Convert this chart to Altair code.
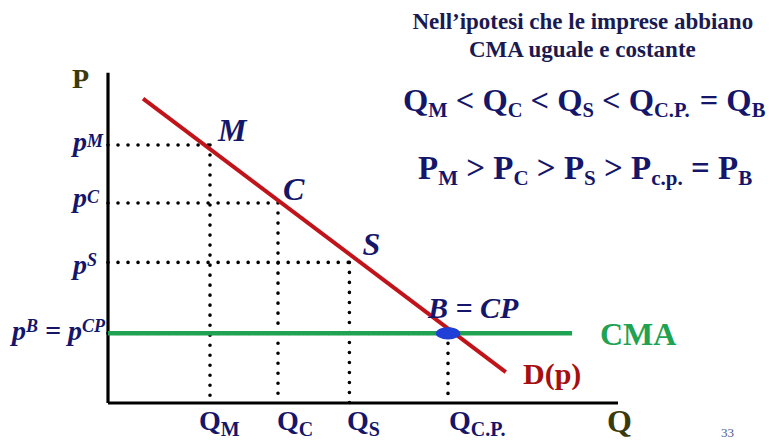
import altair as alt
import pandas as pd

# Equilibria: monopoly (M), Cournot (C), Stackelberg (S), perfect competition / Bertrand (CP)
point_names = ["M", "C", "S", "CP"]
quantity = [3.0, 5.0, 7.1, 10.0]
price = [10.0, 7.75, 5.45, 2.7]

# Linear demand D(p), drawn between its two end points
demand_q = [1.03, 11.7]
demand_p = [11.8, 1.2]

# Constant average cost (CMA) and axis extents
cma_p = 2.7
cma_q_end = 13.65
axis_q_end = 15.0
axis_p_end = 12.8

# ---- canvas geometry -------------------------------------------------------
W, H = 769, 442
X0, Y0 = 108, 403          # pixel position of the origin
KX, KY = 34.0, 25.8        # pixels per unit of Q and of P

xs = alt.Scale(domain=[-X0 / KX, (W - X0) / KX], nice=False, zero=False)
ys = alt.Scale(domain=[-(H - Y0) / KY, Y0 / KY], nice=False, zero=False)


def to_q(px):
    return (px - X0) / KX


def to_p(py):
    return (Y0 - py) / KY


# Times-compatible advance widths (per 1000 em) for Liberation Serif
BOLD = {" ": 250, ".": 250, "’": 333, "<": 570, ">": 570, "=": 570, "(": 333,
        ")": 333, "A": 722, "B": 667, "C": 722, "D": 722, "M": 944, "N": 722,
        "P": 611, "Q": 778, "S": 556, "a": 500, "b": 556, "c": 444, "e": 444,
        "g": 500, "h": 556, "i": 278, "l": 278, "m": 833, "n": 556, "o": 500,
        "p": 556, "r": 444, "s": 389, "t": 333, "u": 556, "3": 500}
BOLD_IT = {" ": 250, "=": 570, "p": 500, "B": 667, "C": 667, "M": 889,
           "P": 611, "S": 556}


def width(text, size, metrics):
    return sum(metrics.get(ch, 500) for ch in text) * size / 1000.0


def run(segments, x, y, metrics, color):
    """Lay out (text, size, rise) pieces one after another from (x, baseline y)."""
    rows = []
    for text, size, rise in segments:
        lead = len(text) - len(text.lstrip(" "))
        if text.strip():
            rows.append(dict(t=text.strip(),
                             x=to_q(x + width(" " * lead, size, metrics)),
                             y=to_p(y - rise), s=size, c=color))
        x += width(text, size, metrics)
    return rows


NAVY = "#15156a"
TITLE = "#1a1a52"
OLIVE = "#3a3a0c"
RED = "#c0141a"
DRED = "#a60f10"
GREEN = "#1fa352"
BLUE = "#1f3fd6"

upright = []
italic = []

# heading
title1 = "Nell’ipotesi che le imprese abbiano"
title2 = "CMA uguale e costante"
cx = 583
upright += run([(title1, 23, 0)], cx - width(title1, 23, BOLD) / 2, 29, BOLD, TITLE)
upright += run([(title2, 23, 0)], cx - width(title2, 23, BOLD) / 2, 57, BOLD, TITLE)

# ordering of quantities and prices
BIG, SUB, DROP = 32.5, 20.5, -6
upright += run([("Q", BIG, 0), ("M", SUB, DROP), (" < ", BIG, 0), ("Q", BIG, 0),
                ("C", SUB, DROP), (" < ", BIG, 0), ("Q", BIG, 0), ("S", SUB, DROP),
                (" < ", BIG, 0), ("Q", BIG, 0), ("C.P.", SUB, DROP), (" = ", BIG, 0),
                ("Q", BIG, 0), ("B", SUB, DROP)], 403, 111, BOLD, NAVY)
upright += run([("P", 33, 0), ("M", 21, DROP), (" > ", 33, 0), ("P", 33, 0),
                ("C", 21, DROP), (" > ", 33, 0), ("P", 33, 0), ("S", 21, DROP),
                (" > ", 33, 0), ("P", 33, 0), ("c.p.", 21, DROP), (" = ", 33, 0),
                ("P", 33, 0), ("B", 21, DROP)], 418, 179, BOLD, NAVY)

# axis names
upright += run([("P", 28, 0)], 72, 88, BOLD, OLIVE)
upright += run([("Q", 32, 0)], 607, 432, BOLD, OLIVE)

# quantity labels under the axis
q_label_left = [199, 277, 347, 449]
q_subs = ["M", "C", "S", "C.P."]
for left, sub in zip(q_label_left, q_subs):
    upright += run([("Q", 28, 0), (sub, 20, -6)], left, 430, BOLD, NAVY)

# curve names
upright += run([("CMA", 32, 0)], 600, 345, BOLD, GREEN)
upright += run([("D(p)", 30, 0)], 523, 384, BOLD, DRED)

# price labels left of the axis
p_label_base = [151, 207, 274, 340]
p_label_rise = [4, 4, 8, 8]
for base, rise, sup in zip(p_label_base[:3], p_label_rise[:3], ["M", "C", "S"]):
    italic += run([("p", 28, 0), (sup, 18, rise)], 73, base, BOLD_IT, NAVY)
italic += run([("p", 28, 0), ("B", 18, 8), (" = ", 28, 0), ("p", 28, 0),
               ("CP", 18, 8)], 12, p_label_base[3], BOLD_IT, NAVY)

# equilibrium point labels, offset from each point
label_text = ["M", "C", "S", "B = CP"]
label_dx = [8, 5, 13, -20]
label_dy = [-4, -3, -7, -15]
label_size = [32, 32, 32, 30]
for name, q, p, dx, dy, sz in zip(label_text, quantity, price, label_dx, label_dy, label_size):
    px = X0 + q * KX + dx
    py = Y0 - p * KY + dy
    italic += run([(name, sz, 0)], px, py, BOLD_IT, NAVY)

small = [dict(t="33", x=to_q(721), y=to_p(437), s=13, c="#4a5a8a")]

# ---- data frames -----------------------------------------------------------
pts = pd.DataFrame({"name": point_names, "q": quantity, "p": price,
                    "q0": 0.0, "p0": 0.0})
demand = pd.DataFrame({"q": [demand_q[0]], "p": [demand_p[0]],
                       "q2": [demand_q[1]], "p2": [demand_p[1]]})
axes_df = pd.DataFrame({"q": [0.0, 0.0], "p": [0.0, 0.0],
                        "q2": [0.0, axis_q_end], "p2": [axis_p_end, 0.0]})
cma = pd.DataFrame({"q": [0.0], "q2": [cma_q_end], "p": [cma_p]})

X = lambda f: alt.X(f, type="quantitative", scale=xs, axis=None)
Y = lambda f: alt.Y(f, type="quantitative", scale=ys, axis=None)

dots = dict(strokeDash=[0.01, 10], strokeCap="round", strokeWidth=3.6, color="black")
h_dots = alt.Chart(pts).mark_rule(**dots).encode(x=X("q0"), x2="q", y=Y("p"))
v_dots = alt.Chart(pts).mark_rule(**dots).encode(x=X("q"), y=Y("p"), y2="p0")

axes = alt.Chart(axes_df).mark_rule(color="black", strokeWidth=3.2).encode(
    x=X("q"), y=Y("p"), x2="q2", y2="p2")

cma_line = alt.Chart(cma).mark_rule(color=GREEN, strokeWidth=4.5).encode(
    x=X("q"), x2="q2", y=Y("p"))

demand_line = alt.Chart(demand).mark_rule(color=RED, strokeWidth=4).encode(
    x=X("q"), y=Y("p"), x2="q2", y2="p2")

ellipse = "M-1,0A1,0.5,0,1,1,1,0A1,0.5,0,1,1,-1,0Z"
b_dot = alt.Chart(pts[pts["name"] == "CP"]).mark_point(
    shape=ellipse, filled=True, opacity=1, size=600, color=BLUE).encode(
    x=X("q"), y=Y("p"))


def text_layer(rows, **style):
    return alt.Chart(pd.DataFrame(rows)).mark_text(
        font="Liberation Serif", align="left", baseline="alphabetic", **style
    ).encode(
        x=X("x"), y=Y("y"), text="t:N",
        size=alt.Size("s:Q", scale=None, legend=None),
        color=alt.Color("c:N", scale=None, legend=None),
    )


chart = alt.layer(
    h_dots, v_dots, axes, cma_line, demand_line, b_dot,
    text_layer(upright, fontWeight="bold"),
    text_layer(italic, fontWeight="bold", fontStyle="italic"),
    text_layer(small),
).properties(
    width=W, height=H, padding=0, background="white",
    autosize=alt.AutoSizeParams(type="none"),
).configure_view(stroke=None)

chart.save("out.html", embed_options={"renderer": "svg", "actions": False})
